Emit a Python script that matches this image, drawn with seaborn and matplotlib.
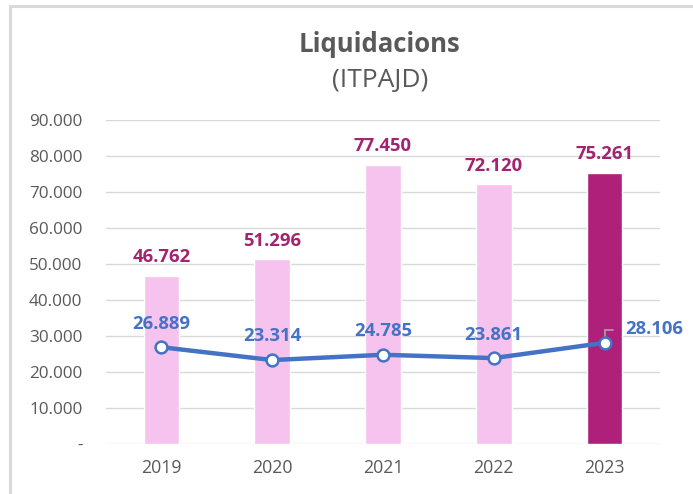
import matplotlib
matplotlib.use("Agg")
import matplotlib.pyplot as plt
import seaborn as sns
import numpy as np
import pandas as pd
from matplotlib.ticker import FuncFormatter
from matplotlib.patches import Rectangle

years = ["2019", "2020", "2021", "2022", "2023"]
liquidacions = [46762, 51296, 77450, 72120, 75261]
itpajd_line = [26889, 23314, 24785, 23861, 28106]
bar_colors = ["#F5C3EE", "#F5C3EE", "#F5C3EE", "#F5C3EE", "#AE2079"]

sns.set_theme(style="white")
plt.rcParams["font.family"] = ["Open Sans", "DejaVu Sans"]

fig = plt.figure(figsize=(6.93, 4.94), dpi=100)
ax = fig.add_axes([106/693, 1-444/494, (660-106)/693, (444-120)/494])

df = pd.DataFrame({"year": years, "value": liquidacions})
sns.barplot(data=df, x="year", y="value", hue="year", palette=bar_colors,
            width=0.32, legend=False, ax=ax, saturation=1)

pos = np.arange(len(years))
ax.plot(pos, itpajd_line, color="#4472C4", lw=3.2, zorder=3,
        marker="o", markersize=8.5, markerfacecolor="white",
        markeredgecolor="#4472C4", markeredgewidth=1.8)

ax.set_ylim(0, 90000)
ax.set_xlim(-0.5, 4.5)
ax.set_yticks(np.arange(0, 90001, 10000))
ax.yaxis.set_major_formatter(FuncFormatter(
    lambda v, p: "-" if v == 0 else f"{int(v):,}".replace(",", ".")))
ax.grid(axis="y", color="#D9D9D9", lw=1)
ax.set_axisbelow(True)
for s in ax.spines.values():
    s.set_visible(False)
ax.tick_params(axis="y", length=0, pad=17, labelsize=12.3, labelcolor="#595959")
ax.tick_params(axis="x", length=0, pad=11, labelsize=12.8, labelcolor="#595959")
ax.set_xlabel("")
ax.set_ylabel("")

fmt = lambda v: f"{v:,}".replace(",", ".")
for i, v in enumerate(liquidacions):
    ax.annotate(fmt(v), (i, v), xytext=(0, 7), textcoords="offset points",
                ha="center", va="bottom", fontsize=13.3, fontweight="bold",
                color="#A3236F")
for i, v in enumerate(itpajd_line[:-1]):
    ax.annotate(fmt(v), (i, v), xytext=(0, 10.5), textcoords="offset points",
                ha="center", va="bottom", fontsize=13.3, fontweight="bold",
                color="#4472C4")
i = len(years) - 1
v = itpajd_line[-1]
ax.annotate(fmt(v), (i, v), xytext=(15, 10), textcoords="offset points",
            ha="left", va="center", fontsize=13.3, fontweight="bold",
            color="#4472C4")
# leader line
ax.plot([i, i], [v, v + 3600], color="#A6A6A6", lw=1.2, zorder=2.5)
ax.plot([i, i + 0.08], [v + 3600, v + 3600], color="#A6A6A6", lw=1.2, zorder=2.5)

fig.text(0.548, 1-45/494, "Liquidacions", ha="center", va="center",
         fontsize=18.5, fontweight="bold", color="#595959")
fig.text(0.548, 1-80/494, "(ITPAJD)", ha="center", va="center",
         fontsize=19, color="#595959")

fig.patches.append(Rectangle((9.5/693, -0.05), 1.2, 1-5.5/494 + 0.05,
                             transform=fig.transFigure, fill=False,
                             edgecolor="#D9D9D9", lw=2.2))

fig.savefig("out.png", dpi=100)
